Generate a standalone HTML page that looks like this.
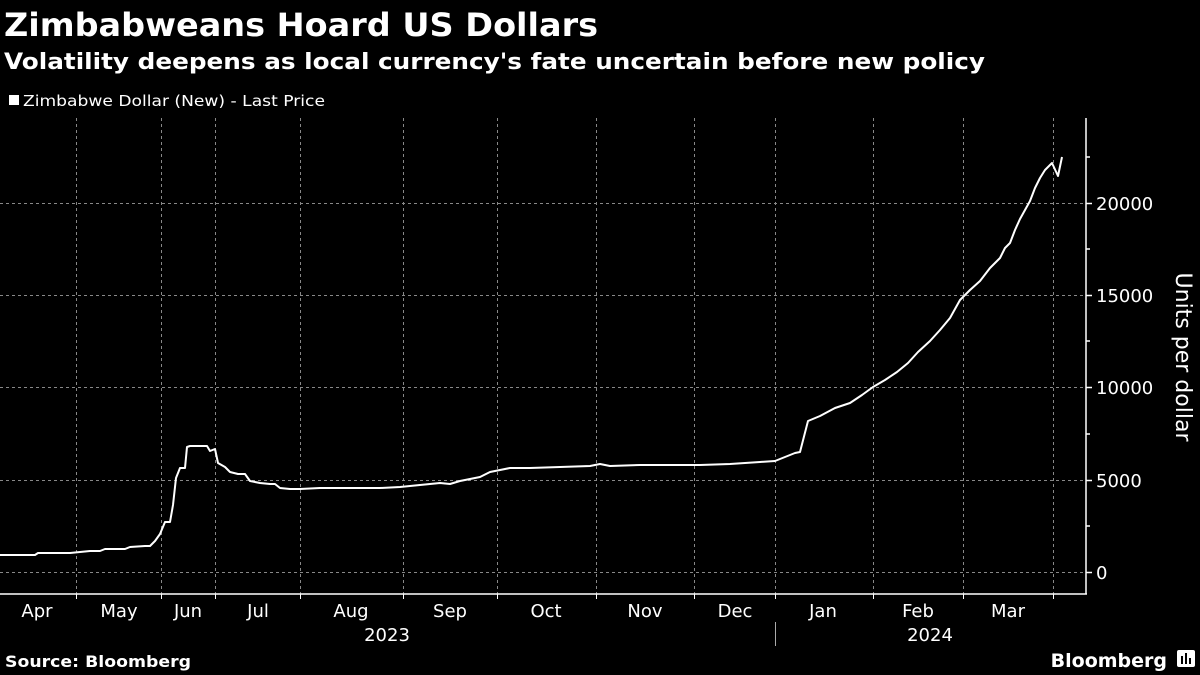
<!DOCTYPE html>
<html><head><meta charset="utf-8"><style>
body{margin:0;background:#000;width:1200px;height:675px;overflow:hidden;font-family:"Liberation Sans",sans-serif;}
</style></head><body>
<svg width="1200" height="675" xmlns="http://www.w3.org/2000/svg" style="position:absolute;left:0;top:0">
<rect width="1200" height="675" fill="#000"/>
<text x="4" y="36" fill="#fff" font-family="DejaVu Sans" font-weight="bold" font-size="32" textLength="594" lengthAdjust="spacingAndGlyphs">Zimbabweans Hoard US Dollars</text>
<text x="4" y="69" fill="#fff" font-family="DejaVu Sans" font-weight="bold" font-size="22" textLength="981" lengthAdjust="spacingAndGlyphs">Volatility deepens as local currency's fate uncertain before new policy</text>
<rect x="9" y="95" width="10" height="10" fill="#fff"/>
<text x="23" y="106" fill="#fff" font-family="DejaVu Sans" font-size="15" textLength="302" lengthAdjust="spacingAndGlyphs">Zimbabwe Dollar (New) - Last Price</text>
<g stroke="#888" stroke-width="1" stroke-dasharray="3,3">
<line x1="0" y1="572.5" x2="1086" y2="572.5"/><line x1="0" y1="480.5" x2="1086" y2="480.5"/><line x1="0" y1="387.5" x2="1086" y2="387.5"/><line x1="0" y1="295.5" x2="1086" y2="295.5"/><line x1="0" y1="203.5" x2="1086" y2="203.5"/>
<line x1="76.5" y1="118" x2="76.5" y2="594"/><line x1="161.5" y1="118" x2="161.5" y2="594"/><line x1="215.5" y1="118" x2="215.5" y2="594"/><line x1="300.5" y1="118" x2="300.5" y2="594"/><line x1="403.5" y1="118" x2="403.5" y2="594"/><line x1="497.5" y1="118" x2="497.5" y2="594"/><line x1="596.5" y1="118" x2="596.5" y2="594"/><line x1="694.5" y1="118" x2="694.5" y2="594"/><line x1="775.5" y1="118" x2="775.5" y2="594"/><line x1="873.5" y1="118" x2="873.5" y2="594"/><line x1="963.5" y1="118" x2="963.5" y2="594"/><line x1="1053.5" y1="118" x2="1053.5" y2="594"/>
</g>
<g stroke="#fff" stroke-width="1.5">
<line x1="0" y1="594" x2="1087" y2="594"/><line x1="1086" y1="118" x2="1086" y2="594"/>
<line x1="1086" y1="572.5" x2="1092" y2="572.5"/><line x1="1086" y1="480.5" x2="1092" y2="480.5"/><line x1="1086" y1="387.5" x2="1092" y2="387.5"/><line x1="1086" y1="295.5" x2="1092" y2="295.5"/><line x1="1086" y1="203.5" x2="1092" y2="203.5"/>
<line x1="1086" y1="526" x2="1090" y2="526"/><line x1="1086" y1="434" x2="1090" y2="434"/><line x1="1086" y1="341" x2="1090" y2="341"/><line x1="1086" y1="249" x2="1090" y2="249"/><line x1="1086" y1="157" x2="1090" y2="157"/>
</g>
<g stroke="#fff" stroke-width="1">
<line x1="76.5" y1="594" x2="76.5" y2="599"/><line x1="161.5" y1="594" x2="161.5" y2="599"/><line x1="215.5" y1="594" x2="215.5" y2="599"/><line x1="300.5" y1="594" x2="300.5" y2="599"/><line x1="403.5" y1="594" x2="403.5" y2="599"/><line x1="497.5" y1="594" x2="497.5" y2="599"/><line x1="596.5" y1="594" x2="596.5" y2="599"/><line x1="694.5" y1="594" x2="694.5" y2="599"/><line x1="775.5" y1="594" x2="775.5" y2="599"/><line x1="873.5" y1="594" x2="873.5" y2="599"/><line x1="963.5" y1="594" x2="963.5" y2="599"/><line x1="1053.5" y1="594" x2="1053.5" y2="599"/>
<line x1="775.5" y1="622" x2="775.5" y2="646" stroke="#aaa"/>
</g>
<g fill="#fff" font-family="DejaVu Sans" font-size="18">
<text x="1096" y="579">0</text><text x="1096" y="487">5000</text><text x="1096" y="394">10000</text><text x="1096" y="302">15000</text><text x="1096" y="210">20000</text>
</g>
<text transform="translate(1176,357) rotate(90)" text-anchor="middle" fill="#fff" font-family="DejaVu Sans" font-size="22">Units per dollar</text>
<g fill="#fff" font-family="DejaVu Sans" font-size="18" text-anchor="middle">
<text x="37" y="617">Apr</text><text x="119" y="617">May</text><text x="188" y="617">Jun</text><text x="258" y="617">Jul</text><text x="351" y="617">Aug</text><text x="450" y="617">Sep</text><text x="546" y="617">Oct</text><text x="645" y="617">Nov</text><text x="735" y="617">Dec</text><text x="823" y="617">Jan</text><text x="918" y="617">Feb</text><text x="1008" y="617">Mar</text>
<text x="387" y="641">2023</text><text x="930" y="641">2024</text>
</g>
<polyline fill="none" stroke="#fff" stroke-width="2" stroke-linejoin="round" points="0,555 35,555 38,553 70,553 80,552 90,551 100,551 105,549 125,549 130,547 145,546 150,546 155,541 160,534 165,522 170,522 173,505 176,478 180,468 185,468 187,447 190,446 200,446 207,446 210,451 215,449 218,463 225,467 230,472 238,474 245,474 250,481 260,483 270,484 275,484 280,488 290,489 300,489 320,488 350,488 380,488 400,487 420,485 440,483 450,484 460,481 470,479 480,477 490,472 500,470 510,468 530,468 560,467 590,466 600,464 610,466 640,465 700,465 730,464 760,462 775,461 785,457 795,453 800,452 808,421 820,416 835,408 850,403 862,395 873,387 885,380 897,372 908,363 918,352 930,341 940,330 950,318 960,300 970,290 980,281 990,268 1000,258 1005,248 1010,243 1015,230 1020,219 1025,210 1030,201 1035,188 1040,178 1045,170 1052,163 1058,176 1062,157"/>
<text x="5" y="667" fill="#fff" font-family="DejaVu Sans" font-weight="bold" font-size="16" textLength="186" lengthAdjust="spacingAndGlyphs">Source: Bloomberg</text>
<text x="1167" y="667" text-anchor="end" fill="#fff" font-family="DejaVu Sans" font-weight="bold" font-size="19">Bloomberg</text>
<rect x="1177" y="650" width="18" height="17" rx="2" fill="#fff"/>
<rect x="1181" y="656" width="2" height="8" fill="#000"/><rect x="1185" y="653" width="2" height="11" fill="#000"/><rect x="1189" y="658" width="2" height="6" fill="#000"/>
</svg>
</body></html>
